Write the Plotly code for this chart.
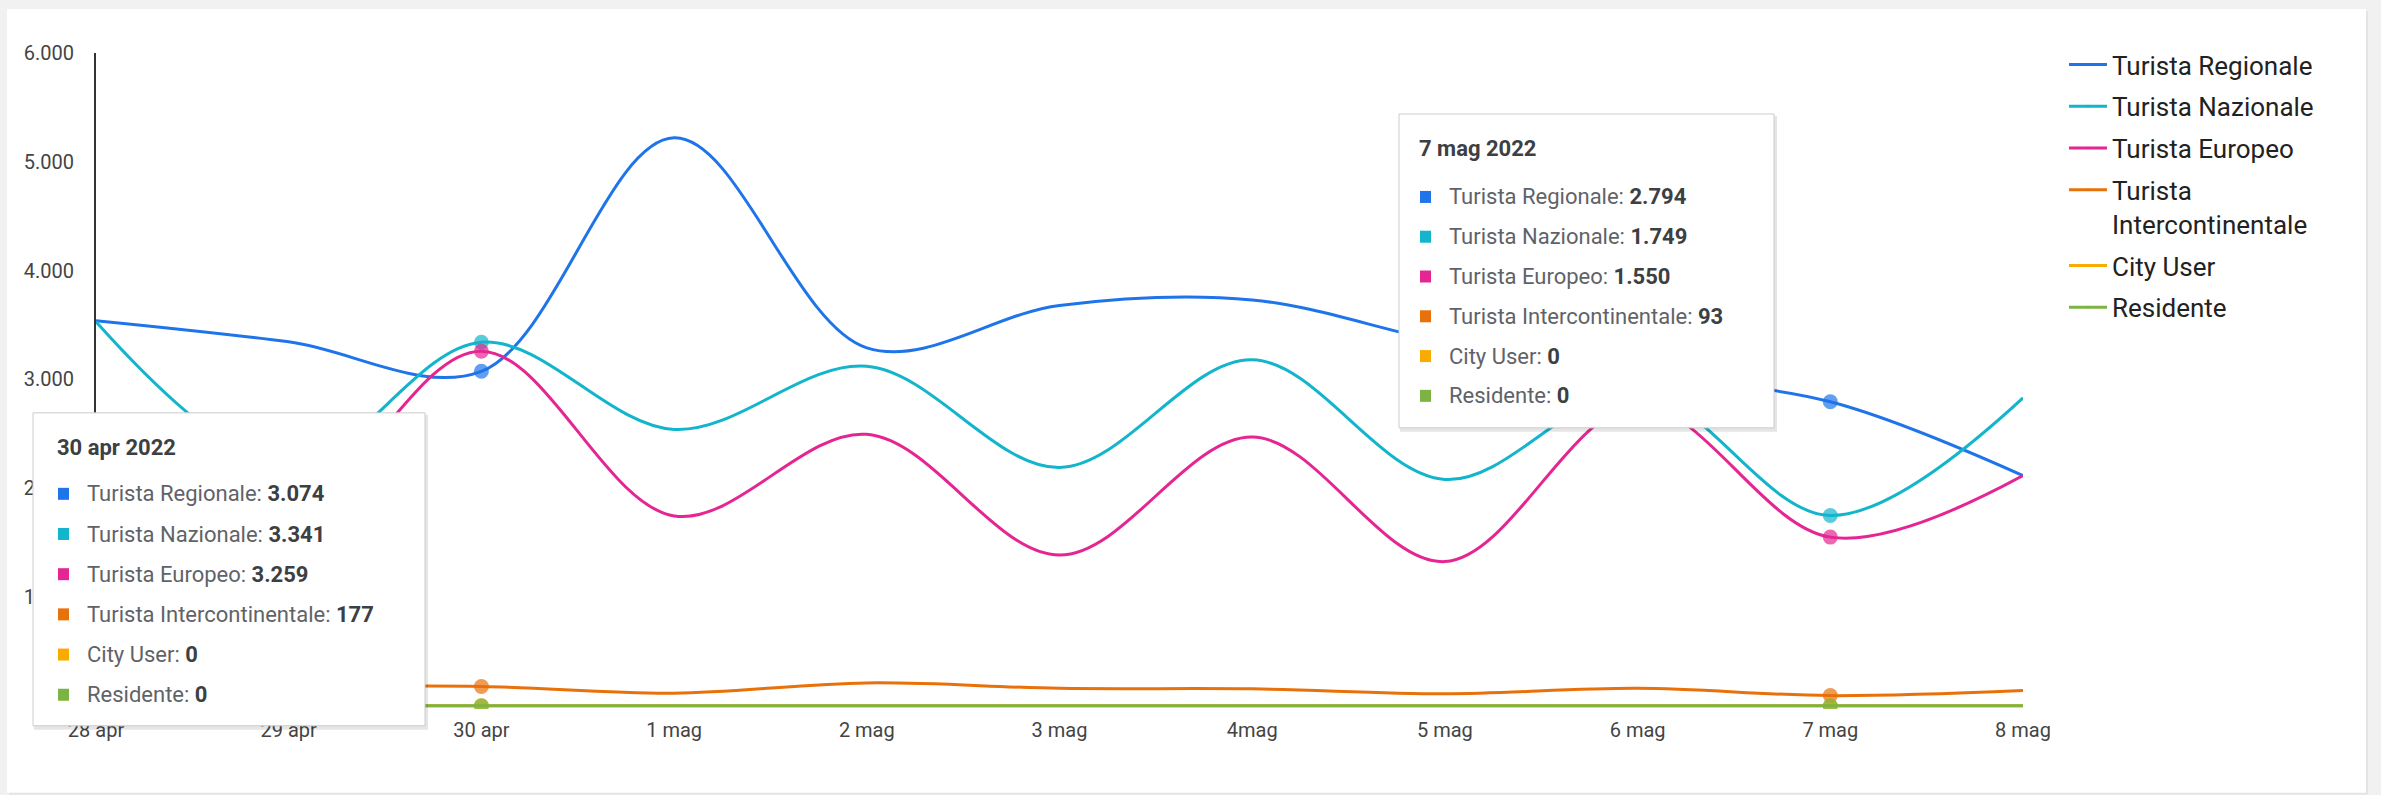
import plotly.graph_objects as go

# ---------------- data ----------------
categories = ["28 apr", "29 apr", "30 apr", "1 mag", "2 mag", "3 mag", "4mag",
              "5 mag", "6 mag", "7 mag", "8 mag"]
series_names = ["Turista Regionale", "Turista Nazionale", "Turista Europeo",
                "Turista Intercontinentale", "City User", "Residente"]
legend_labels = ["Turista Regionale", "Turista Nazionale", "Turista Europeo",
                 "Turista<br>Intercontinentale", "City User", "Residente"]
turista_regionale = [3540, 3345, 3074, 5220, 3290, 3680, 3730, 3340, 3050, 2794, 2115]
turista_nazionale = [3530, 2200, 3341, 2540, 3120, 2190, 3180, 2080, 2900, 1749, 2830]
turista_europeo = [2400, 1800, 3259, 1745, 2495, 1385, 2470, 1325, 2760, 1550, 2115]
turista_intercontinentale = [185, 175, 177, 115, 210, 160, 155, 110, 160, 93, 140]
city_user = [0, 0, 0, 0, 0, 0, 0, 0, 0, 0, 0]
residente = [0, 0, 0, 0, 0, 0, 0, 0, 0, 0, 0]
highlighted = ["30 apr", "7 mag"]
year_label = "2022"
y_ticks = [0, 1000, 2000, 3000, 4000, 5000, 6000]

series_values = [turista_regionale, turista_nazionale, turista_europeo,
                 turista_intercontinentale, city_user, residente]
colors = ["#1F74EA", "#12B5CB", "#E52592", "#E8710A", "#F9AB00", "#7CB342"]

# ---------------- layout geometry (pixels) ----------------
W, H = 2381, 795
L, R = 96, 2023          # plot left / right
T, ZERO = 53, 706        # y of 6000 / y of 0
Y_MAX = 6000
Y_LO = -30
scale = (ZERO - T) / Y_MAX
B = ZERO - Y_LO * scale  # bottom of plot area


def px2x(px):
    return (px - L) / (R - L)


def py2y(py):
    return (B - py) / (B - T)


FONT = "Roboto, 'Noto Sans', Arial, sans-serif"

fig = go.Figure()
for name, lab, vals, col in zip(series_names, legend_labels, series_values, colors):
    sizes = [15 if c in highlighted else 0 for c in categories]
    fig.add_trace(go.Scatter(
        x=categories, y=vals, name=lab, mode="lines+markers",
        line=dict(color=col, width=3, shape="spline", smoothing=1),
        marker=dict(color=col, size=sizes, line=dict(width=0)),
        legendgroup=name,
    ))

shapes = []
# card background
shapes.append(dict(type="rect", xref="paper", yref="paper", layer="below",
                   x0=px2x(9), x1=px2x(2368), y0=py2y(795), y1=py2y(11),
                   fillcolor="#e4e4e4", line=dict(width=0)))
shapes.append(dict(type="rect", xref="paper", yref="paper", layer="below",
                   x0=px2x(7), x1=px2x(2366), y0=py2y(793), y1=py2y(9),
                   fillcolor="white", line=dict(width=0)))

annotations = []


def fmt(v):
    return f"{v:,}".replace(",", ".")


def tooltip(cat, box, title_y, row0_y, row_gap, sq_x, text_x):
    x0, y0, x1, y1 = box
    idx = categories.index(cat)
    # shadow
    shapes.append(dict(type="rect", xref="paper", yref="paper", layer="above",
                       x0=px2x(x0 + 1), x1=px2x(x1 + 3), y0=py2y(y1 + 4), y1=py2y(y0 + 2),
                       fillcolor="rgba(0,0,0,0.10)", line=dict(width=0)))
    shapes.append(dict(type="rect", xref="paper", yref="paper", layer="above",
                       x0=px2x(x0), x1=px2x(x1), y0=py2y(y1), y1=py2y(y0),
                       fillcolor="white", line=dict(color="#cccccc", width=1)))
    annotations.append(dict(xref="paper", yref="paper", x=px2x(sq_x - 3), y=py2y(title_y),
                            xanchor="left", yanchor="middle", showarrow=False,
                            text=f"<b>{cat} {year_label}</b>",
                            font=dict(family=FONT, size=22, color="#3c4043")))
    for k, (name, vals, col) in enumerate(zip(series_names, series_values, colors)):
        ry = row0_y + k * row_gap
        shapes.append(dict(type="rect", xref="paper", yref="paper", layer="above",
                           x0=px2x(sq_x), x1=px2x(sq_x + 11), y0=py2y(ry + 6), y1=py2y(ry - 6),
                           fillcolor=col, line=dict(width=0)))
        annotations.append(dict(xref="paper", yref="paper", x=px2x(text_x - 3), y=py2y(ry),
                                xanchor="left", yanchor="middle", showarrow=False,
                                text=f"{name}: <span style='color:#3c4043'><b>{fmt(vals[idx])}</b></span>",
                                font=dict(family=FONT, size=22, color="#5f6368")))


tooltip("30 apr", (33, 413, 425, 726), 448, 494, 40.2, 58, 88)
tooltip("7 mag", (1399, 114, 1774, 428), 149, 197, 39.8, 1420, 1450)

fig.update_layout(
    width=W, height=H,
    margin=dict(l=L, r=W - R, t=T, b=H - B, pad=0),
    paper_bgcolor="#f1f1f1", plot_bgcolor="white",
    separators=",.",
    font=dict(family=FONT, size=20, color="#444444"),
    showlegend=True,
    legend=dict(x=px2x(2064), y=py2y(41), xanchor="left", yanchor="top",
                font=dict(family=FONT, size=26, color="#222222"),
                bgcolor="rgba(0,0,0,0)", tracegroupgap=5, valign="top",
                itemwidth=38),
    xaxis=dict(type="category", categoryorder="array", categoryarray=categories,
               range=[0, len(categories) - 1], showgrid=False, zeroline=False,
               showline=False, ticks="outside", ticklen=3, tickcolor="rgba(0,0,0,0)",
               tickfont=dict(family=FONT, size=20, color="#444444"), fixedrange=True),
    yaxis=dict(range=[Y_LO, Y_MAX], tickvals=y_ticks, tickformat=",d",
               showgrid=False, zeroline=False, showline=True, linecolor="#333333",
               linewidth=2, ticks="outside", ticklen=16, tickcolor="rgba(0,0,0,0)",
               tickfont=dict(family=FONT, size=20, color="#444444"), fixedrange=True),
    shapes=shapes, annotations=annotations,
)

fig.write_html("out.html")
